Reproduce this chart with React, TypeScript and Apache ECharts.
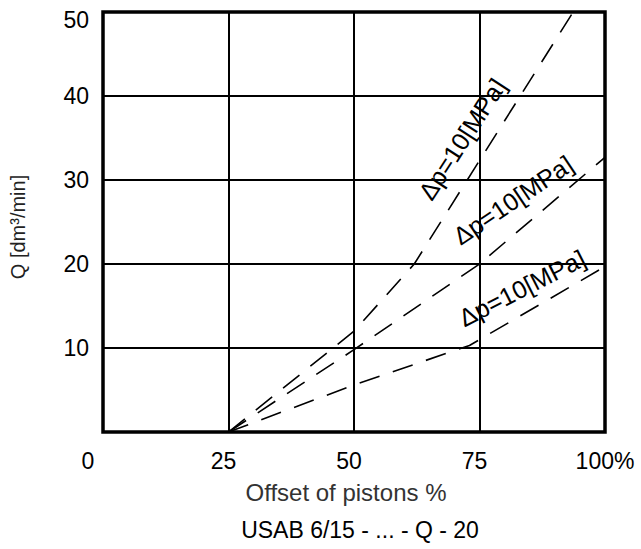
import React, { useEffect, useRef } from "react";
import * as echarts from "echarts";

const xTicks = [0, 25, 50, 75, 100];
const yTicks = [0, 10, 20, 30, 40, 50];

const curveHighX = [25, 50, 62, 100];
const curveHighY = [0, 12, 20, 56];
const curveMidX = [25, 50, 75, 100];
const curveMidY = [0, 9.8, 20, 32.7];
const curveLowX = [25, 50, 73, 100];
const curveLowY = [0, 5.6, 10.3, 19.7];

const curveLabel = "Δp=10[MPa]";
const xAxisTitle = "Offset of pistons %";
const yAxisTitle = "Q [dm³/min]";
const chartTitle = "USAB 6/15 - ... - Q - 20";

const FONT = '"Liberation Sans", Arial, Helvetica, sans-serif';

function pairs(xs: number[], ys: number[]) {
  return xs.map((x, i) => [x, ys[i]]);
}

export default function App() {
  const ref = useRef<HTMLDivElement>(null);
  useEffect(() => {
    document.body.style.margin = "0";
    if (!ref.current) return;
    const chart = echarts.init(ref.current, null, { renderer: "svg" });
    const lineStyle = { color: "#000", width: 1.6, type: [21, 14] as any };
    const mkSeries = (xs: number[], ys: number[]) => ({
      type: "line",
      data: pairs(xs, ys),
      symbol: "none",
      clip: true,
      lineStyle,
      z: 3,
    });
    const labelText = (x: number, y: number, deg: number) => ({
      type: "text",
      x,
      y,
      rotation: (deg * Math.PI) / 180,
      style: {
        text: curveLabel,
        fontSize: 25,
        fontFamily: FONT,
        fill: "#000",
        align: "center",
        verticalAlign: "middle",
      },
      z: 10,
    });
    const tickRich = { fontSize: 23, color: "#000", fontFamily: FONT };
    chart.setOption({
      animation: false,
      backgroundColor: "#fff",
      title: {
        text: chartTitle,
        left: 355,
        top: 513,
        textAlign: "center",
        textStyle: { fontSize: 23, fontWeight: "normal", color: "#000", fontFamily: FONT },
      },
      grid: {
        left: 101,
        right: 36,
        top: 12,
        bottom: 117,
        show: true,
        borderColor: "#000",
        borderWidth: 3.5,
        backgroundColor: "transparent",
      },
      xAxis: {
        type: "value",
        min: xTicks[0],
        max: xTicks[xTicks.length - 1],
        interval: 25,
        name: xAxisTitle,
        nameLocation: "middle",
        nameGap: 48,
        nameTextStyle: { fontSize: 24, color: "#333", fontFamily: FONT, padding: [0, 16, 0, 0] },
        axisLine: { show: false },
        axisTick: { show: false },
        splitLine: { show: true, lineStyle: { color: "#000", width: 2 } },
        axisLabel: {
          margin: 17,
          fontSize: 23,
          color: "#000",
          fontFamily: FONT,
          formatter: (v: number) =>
            v === 0 ? "{l|0}" : v === 100 ? "100%" : "{m|" + v + "}",
          rich: {
            l: { ...tickRich, padding: [0, 30, 0, 0] },
            m: { ...tickRich, padding: [0, 10, 0, 0] },
          },
        },
      },
      yAxis: {
        type: "value",
        min: yTicks[0],
        max: yTicks[yTicks.length - 1],
        interval: 10,
        name: yAxisTitle,
        nameLocation: "middle",
        nameRotate: 90,
        nameGap: 75,
        nameTextStyle: { fontSize: 20, color: "#222", fontFamily: FONT, padding: [0, 10, 0, 0] },
        axisLine: { show: false },
        axisTick: { show: false },
        splitLine: { show: true, lineStyle: { color: "#000", width: 2 } },
        axisLabel: {
          margin: 14,
          fontSize: 23,
          color: "#000",
          fontFamily: FONT,
          formatter: (v: number) => (v === 0 ? "" : v === 50 ? "{t|50}" : String(v)),
          rich: { t: { ...tickRich, padding: [16, 0, 0, 0] } },
        },
      },
      series: [
        mkSeries(curveHighX, curveHighY),
        mkSeries(curveMidX, curveMidY),
        mkSeries(curveLowX, curveLowY),
      ],
      graphic: [labelText(462, 139, 57), labelText(513, 200, 34), labelText(522, 288, 27)],
    });
    return () => chart.dispose();
  }, []);
  return <div ref={ref} style={{ width: 641, height: 549 }} />;
}
